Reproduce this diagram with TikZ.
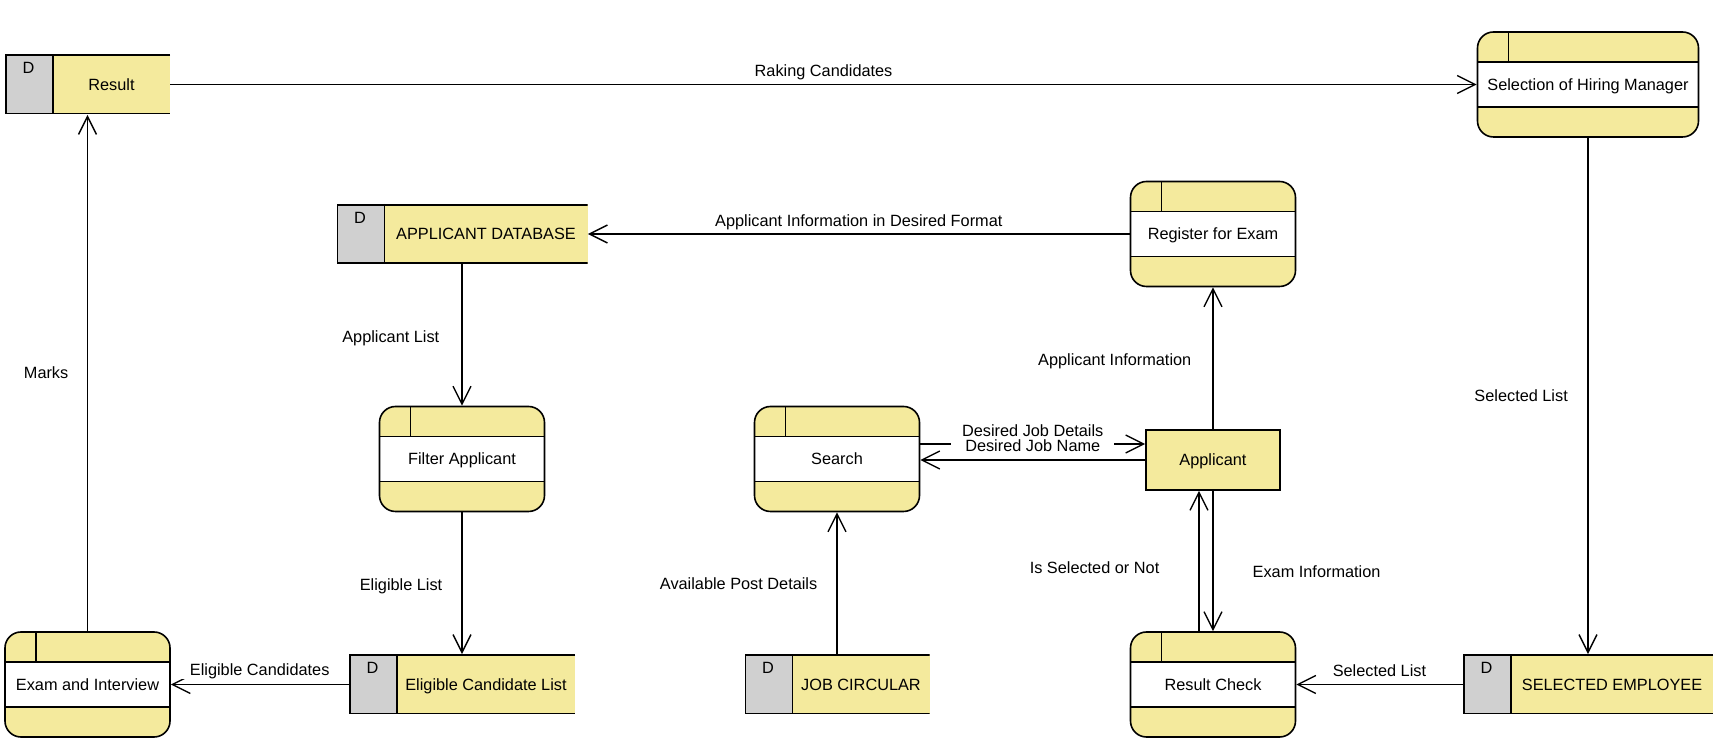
\documentclass[tikz,border=0pt]{standalone}
\usepackage{fontspec}
\setmainfont{Liberation Sans}
\usetikzlibrary{arrows.meta}
\definecolor{dfdyellow}{RGB}{244,234,157}
\definecolor{storegray}{RGB}{208,208,208}

\tikzset{
  dproc/.style={draw, line width=0.8pt, rounded corners=8pt, fill=dfdyellow,
    minimum width=82.5pt, minimum height=52.5pt, inner sep=0pt,
    text height=5.9pt, text depth=0pt,
    path picture={
      \fill[white, sharp corners] ([yshift=-15pt]path picture bounding box.north west)
        rectangle ([yshift=15pt]path picture bounding box.south east);
      \draw[sharp corners] ([yshift=-15pt]path picture bounding box.north west)
        -- ([yshift=-15pt]path picture bounding box.north east)
        ([yshift=15pt]path picture bounding box.south west)
        -- ([yshift=15pt]path picture bounding box.south east)
        ([xshift=15.5pt]path picture bounding box.north west)
        -- ([xshift=15.5pt,yshift=-15pt]path picture bounding box.north west);
    }},
  dstore/.style={fill=dfdyellow, minimum width=#1, minimum height=30pt, inner sep=0pt,
    text height=5.9pt, text depth=0pt,
    execute at begin node={\hspace*{24pt}},
    label={[anchor=center, xshift=12pt, yshift=-7pt]north west:D},
    path picture={
      \fill[storegray] (path picture bounding box.north west)
        rectangle ([xshift=24pt]path picture bounding box.south west);
      \draw[line width=0.8pt] ([yshift=-0.4pt]path picture bounding box.north east)
        -- ([xshift=0.4pt,yshift=-0.4pt]path picture bounding box.north west)
        -- ([xshift=0.4pt,yshift=0.4pt]path picture bounding box.south west)
        -- ([yshift=0.4pt]path picture bounding box.south east);
      \draw[line width=0.8pt] ([xshift=24pt]path picture bounding box.north west)
        -- ([xshift=24pt]path picture bounding box.south west);
    }},
  dent/.style={draw, line width=0.8pt, fill=dfdyellow, minimum width=67pt, minimum height=30pt,
    text height=5.9pt, text depth=0pt},
  dflow/.style={-{Straight Barb[length=9pt,width=9pt]}, line width=0.7pt},
  dlabel/.style={fill=white, inner xsep=7pt, inner ysep=1.5pt, text height=5.9pt, text depth=0pt}
}

\begin{document}
\begin{tikzpicture}[x=0.5pt, y=-0.5pt,
  every node/.append style={font=\fontsize{8.15pt}{9.8pt}\selectfont}]
\useasboundingbox (0,0) rectangle (1721,742);

% processes
\node[dproc, minimum width=110.5pt] (sel) at (1588,84.5) {Selection of Hiring Manager};
\node[dproc] (reg) at (1213,234) {Register for Exam};
\node[dproc] (filt) at (462,459) {Filter Applicant};
\node[dproc] (search) at (837,459) {Search};
\node[dproc] (exam) at (87.5,684.5) {Exam and Interview};
\node[dproc] (rcheck) at (1213,684.5) {Result Check};

% data stores
\node[dstore=82.5pt] (result) at (87.5,84.5) {Result};
\node[dstore=125.5pt] (appdb) at (462,234) {APPLICANT DATABASE};
\node[dstore=113pt] (elig) at (462,684.5) {Eligible Candidate List};
\node[dstore=92.5pt] (jobc) at (837,684.5) {JOB CIRCULAR};
\node[dstore=125pt] (selemp) at (1588,684.5) {SELECTED EMPLOYEE};

% external entity
\node[dent] (applicant) at (1213,460) {Applicant};

\coordinate (jobin) at ([yshift=8pt]applicant.west);

% flows
\draw[dflow] (result) -- (sel) node[dlabel, midway, yshift=6.75pt] {Raking Candidates};
\draw[dflow] (reg) -- (appdb) node[dlabel, midway, yshift=6.75pt] {Applicant Information in Desired Format};
\draw[dflow] (appdb) -- (filt) node[dlabel, midway, left=4pt, yshift=-1pt] {Applicant List};
\draw[dflow] (filt) -- (elig) node[dlabel, midway, left=2.5pt, yshift=-0.7pt] {Eligible List};
\draw[dflow] (elig) -- (exam) node[dlabel, midway, yshift=7.2pt] {Eligible Candidates};
\draw[dflow] (exam) -- (result) node[dlabel, midway, left=2.25pt] {Marks};
\draw[dflow] (jobin -| search.east) -- (jobin) node[dlabel, midway, yshift=6.75pt] {Desired Job Details};
\draw[dflow] (applicant.west) -- (applicant.west -| search.east) node[dlabel, midway, yshift=7pt] {Desired Job Name};
\draw[dflow] (jobc) -- (search) node[dlabel, midway, left=2.5pt] {Available Post Details};
\draw[dflow] (applicant) -- (reg) node[dlabel, midway, left=3.5pt, yshift=-0.7pt] {Applicant Information};
\draw[dflow] ([xshift=-7pt]rcheck.north) -- ([xshift=-7pt]applicant.south) node[dlabel, midway, left=12.5pt, yshift=-3.5pt] {Is Selected or Not};
\draw[dflow] (applicant) -- (rcheck) node[dlabel, midway, right=12.5pt, yshift=-5.25pt] {Exam Information};
\draw[dflow] (selemp) -- (rcheck) node[dlabel, midway, yshift=6.75pt] {Selected List};
\draw[dflow] (sel) -- (selemp) node[dlabel, midway, left=2.75pt] {Selected List};
\end{tikzpicture}
\end{document}
